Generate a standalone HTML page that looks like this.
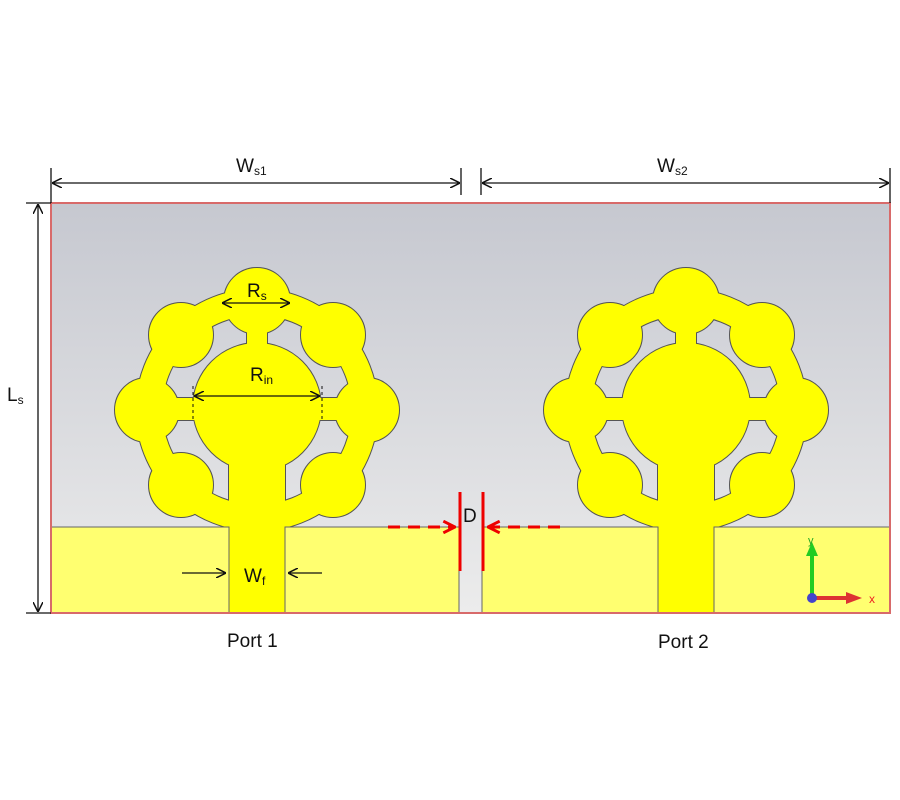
<!DOCTYPE html>
<html><head><meta charset="utf-8"><style>
body{margin:0;background:#fff;}
svg{display:block;font-family:"Liberation Sans","DejaVu Sans",sans-serif;}
</style></head><body>
<svg width="900" height="800" viewBox="0 0 900 800" xmlns="http://www.w3.org/2000/svg">
<defs>
<linearGradient id="bg" x1="0" y1="0" x2="0" y2="1">
<stop offset="0" stop-color="#c6c8d0"/><stop offset="1" stop-color="#ececec"/>
</linearGradient>
<marker id="ah" viewBox="0 0 10 10" refX="10" refY="5" markerWidth="10" markerHeight="10" orient="auto-start-reverse" markerUnits="userSpaceOnUse">
<path d="M0,0 L10,5 L0,10" fill="none" stroke="#111" stroke-width="1.5"/>
</marker>
<marker id="rh" viewBox="0 0 12 12" refX="11" refY="6" markerWidth="14" markerHeight="14" orient="auto" markerUnits="userSpaceOnUse">
<path d="M1,1 L11,6 L1,11" fill="none" stroke="#e00" stroke-width="2.5"/>
</marker>
<g id="shapes">
<circle cy="-3" r="64"/>
<circle cx="0" cy="-109" r="33"/>
<circle cx="76" cy="-75" r="32"/>
<circle cx="-76" cy="-75" r="32"/>
<circle cx="110" cy="0" r="32"/>
<circle cx="-110" cy="0" r="32"/>
<circle cx="76" cy="75" r="32"/>
<circle cx="-76" cy="75" r="32"/>
<rect x="-110" y="-12" width="220" height="22"/>
<rect x="-10" y="-109" width="20" height="109"/>
<rect x="-28" y="30" width="56" height="173"/>
</g>
<g id="ant">
<g fill="#ffff00" stroke="#555" stroke-width="2"><use href="#shapes"/></g>
<circle r="108" fill="none" stroke="#555" stroke-width="28"/>
<g fill="#ffff00" stroke="none"><use href="#shapes"/></g>
<circle r="108" fill="none" stroke="#ffff00" stroke-width="26"/>
</g>
</defs>
<rect x="51" y="203" width="839" height="410" fill="url(#bg)"/>
<use href="#ant" transform="translate(257,410)"/>
<use href="#ant" transform="translate(686,410)"/>
<rect x="51" y="527" width="178" height="86" fill="#ffff70"/>
<rect x="285" y="527" width="174" height="86" fill="#ffff70"/>
<rect x="482" y="527" width="176" height="86" fill="#ffff70"/>
<rect x="714" y="527" width="176" height="86" fill="#ffff70"/>
<path d="M51,527 H229 V613 M285,613 V527 H459 V613 M482,613 V527 H658 V613 M714,613 V527 H890" fill="none" stroke="#666" stroke-width="1"/>
<rect x="51" y="203" width="839" height="410" fill="none" stroke="#d86a6a" stroke-width="2"/>
<g stroke="#111" stroke-width="1.3" fill="none">
<line x1="51" y1="168" x2="51" y2="203"/>
<line x1="461" y1="168" x2="461" y2="195"/>
<line x1="481" y1="168" x2="481" y2="195"/>
<line x1="890" y1="168" x2="890" y2="203"/>
<line x1="52" y1="183" x2="460" y2="183" marker-start="url(#ah)" marker-end="url(#ah)"/>
<line x1="482" y1="183" x2="889" y2="183" marker-start="url(#ah)" marker-end="url(#ah)"/>
<line x1="26" y1="203" x2="51" y2="203"/>
<line x1="26" y1="613" x2="51" y2="613"/>
<line x1="38" y1="204" x2="38" y2="612" marker-start="url(#ah)" marker-end="url(#ah)"/>
<line x1="222" y1="303" x2="290" y2="303" marker-start="url(#ah)" marker-end="url(#ah)"/>
<line x1="194" y1="396" x2="320" y2="396" marker-start="url(#ah)" marker-end="url(#ah)"/>
<line x1="182" y1="573" x2="226" y2="573" marker-end="url(#ah)"/>
<line x1="322" y1="573" x2="288" y2="573" marker-end="url(#ah)"/>
</g>
<g stroke="#111" stroke-width="1" stroke-dasharray="3,3">
<line x1="193" y1="386" x2="193" y2="420"/>
<line x1="322" y1="386" x2="322" y2="420"/>
</g>
<g font-size="19" fill="#111">
<text x="236" y="172">W<tspan font-size="12" dy="3">s1</tspan></text>
<text x="657" y="172">W<tspan font-size="12" dy="3">s2</tspan></text>
<text x="7" y="401">L<tspan font-size="12" dy="3">s</tspan></text>
<text x="247" y="297">R<tspan font-size="12" dy="3">s</tspan></text>
<text x="250" y="381">R<tspan font-size="12" dy="3">in</tspan></text>
<text x="244" y="582">W<tspan font-size="12" dy="3">f</tspan></text>
<text x="463" y="522">D</text>
<text x="227" y="647">Port 1</text>
<text x="658" y="648">Port 2</text>
</g>
<g stroke="#e00" stroke-width="3">
<line x1="460" y1="492" x2="460" y2="571"/>
<line x1="483" y1="492" x2="483" y2="571"/>
<line x1="388" y1="527" x2="455" y2="527" stroke-dasharray="12,8" marker-end="url(#rh)"/>
<line x1="560" y1="527" x2="488" y2="527" stroke-dasharray="12,8" marker-end="url(#rh)"/>
</g>
<line x1="812" y1="598" x2="812" y2="552" stroke="#2c2" stroke-width="4"/>
<path d="M806,556 L812,542 L818,556 Z" fill="#2c2"/>
<line x1="812" y1="598" x2="850" y2="598" stroke="#d33" stroke-width="4"/>
<path d="M846,592 L862,598 L846,604 Z" fill="#d33"/>
<circle cx="812" cy="598" r="5" fill="#44c"/>
<text x="808" y="544" font-size="11" fill="#2a2">y</text>
<text x="869" y="603" font-size="12" fill="#e22">x</text>
</svg>
</body></html>
